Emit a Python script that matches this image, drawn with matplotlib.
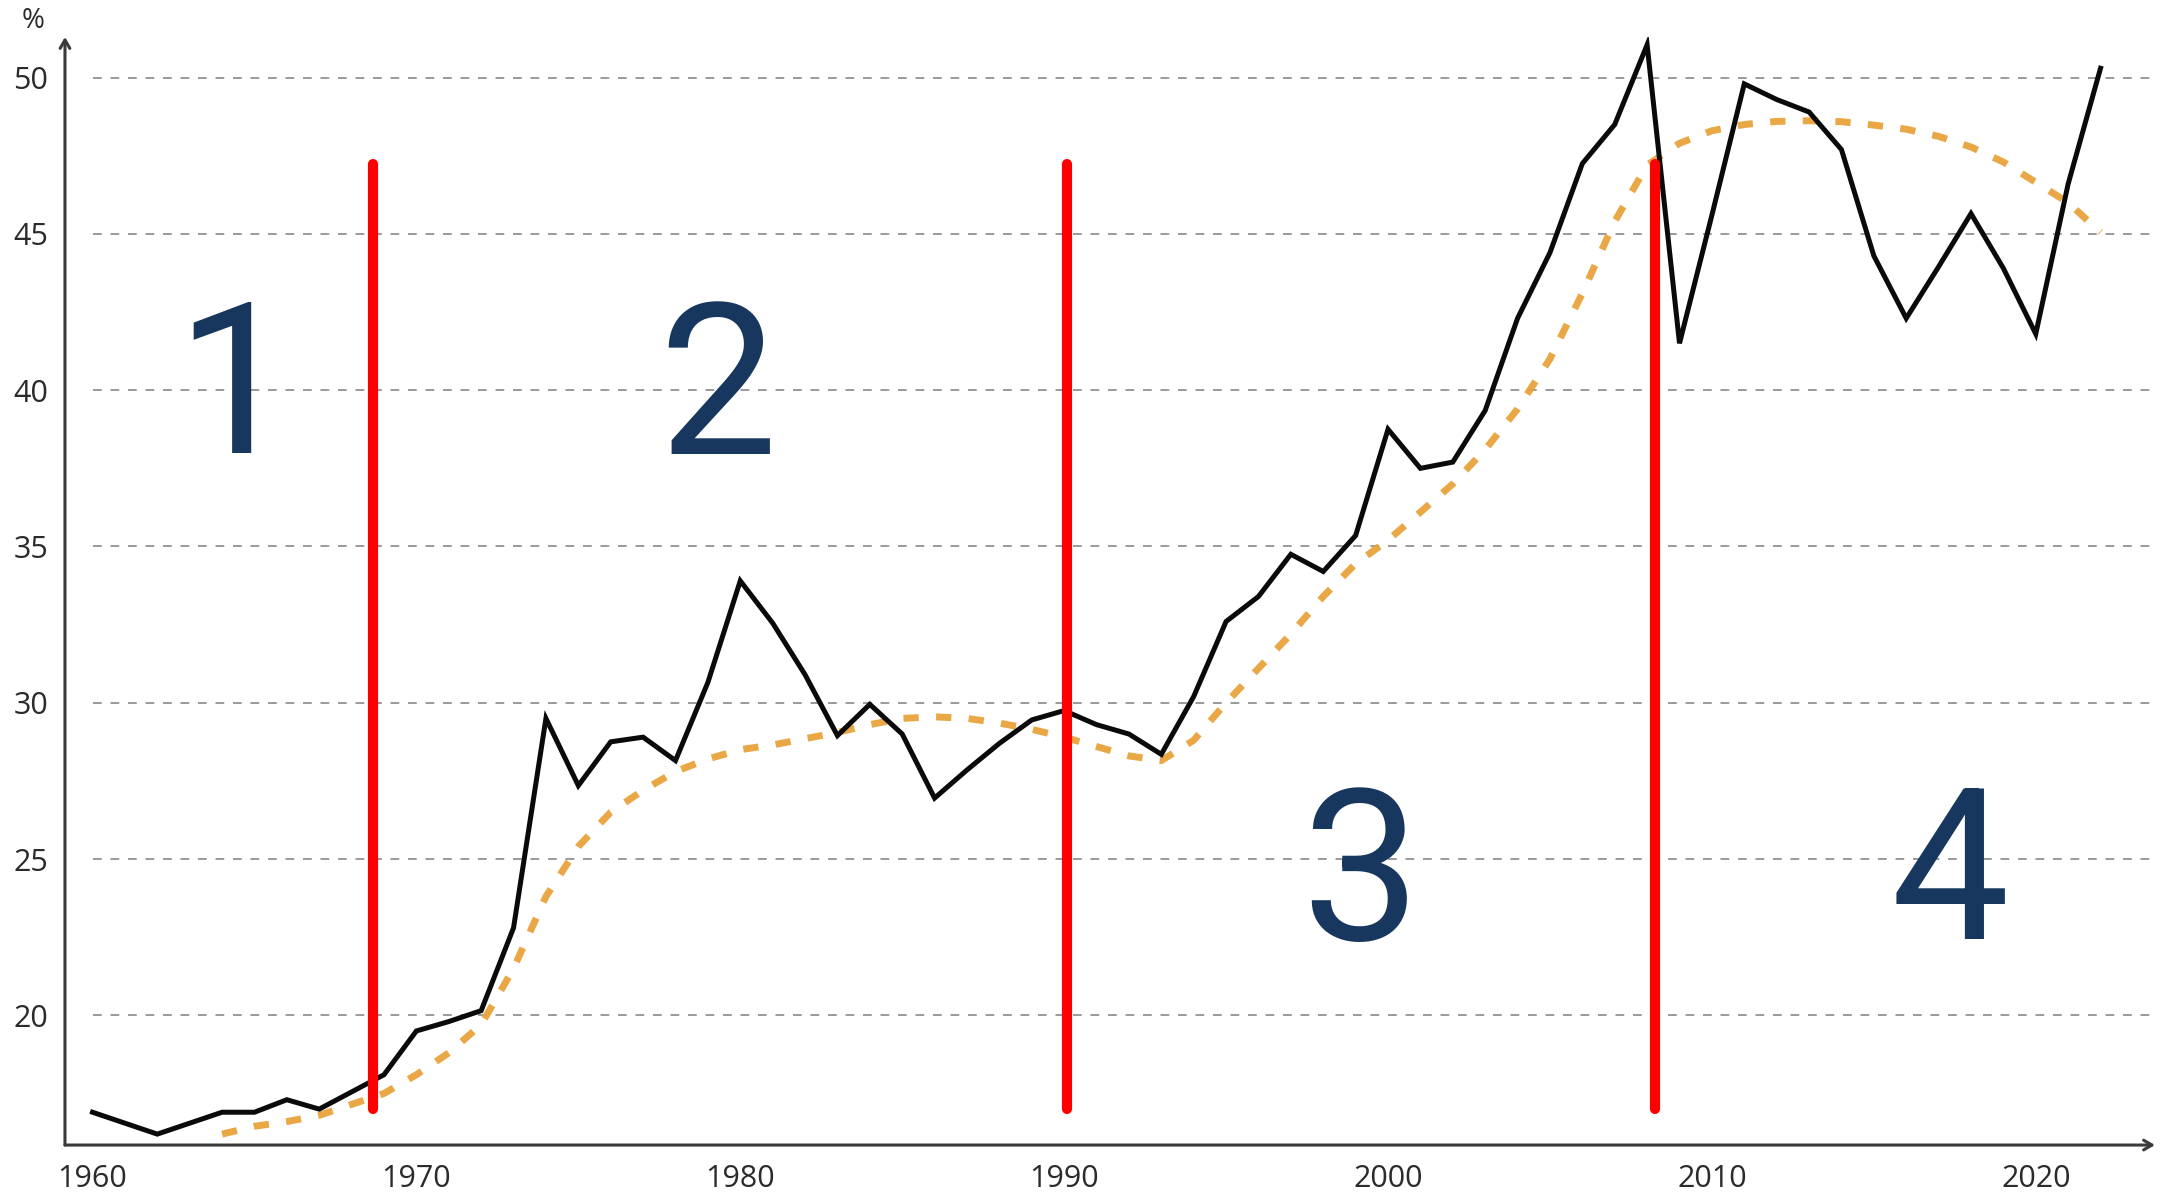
import matplotlib
matplotlib.use("Agg")
import matplotlib.pyplot as plt
import numpy as np

# ---------------- data ----------------
years = list(range(1960, 2023))
share = [16.9, 16.55, 16.2, 16.55, 16.9, 16.9, 17.3, 17.0, 17.55, 18.1,
         19.5, 19.8, 20.15, 22.8, 29.5, 27.35, 28.75, 28.9, 28.15, 30.65,
         33.9, 32.55, 30.9, 28.95, 29.95, 29.0, 26.95, 27.85, 28.7, 29.45,
         29.75, 29.3, 29.0, 28.35, 30.2, 32.6, 33.4, 34.75, 34.2, 35.35,
         38.75, 37.5, 37.7, 39.35, 42.3, 44.4, 47.25, 48.5, 51.05, 41.5,
         45.6, 49.8, 49.3, 48.9, 47.7, 44.3, 42.3, 43.95, 45.65, 43.9,
         41.8, 46.6, 50.3]

trend_years = list(range(1964, 2023))
trend = [16.2, 16.45, 16.6, 16.8, 17.15, 17.5,
         18.1, 18.8, 19.7, 21.5, 23.8, 25.4, 26.5, 27.2, 27.8, 28.2,
         28.5, 28.65, 28.85, 29.05, 29.3, 29.5, 29.55, 29.5, 29.35, 29.15,
         28.9, 28.6, 28.3, 28.15, 28.8, 30.0, 31.1, 32.2, 33.4, 34.45,
         35.2, 36.1, 37.0, 38.1, 39.4, 41.0, 43.1, 45.4, 47.2, 47.9,
         48.3, 48.5, 48.6, 48.62, 48.59, 48.48, 48.35, 48.12, 47.78, 47.3,
         46.65, 46.0, 45.05]

phase_breaks = [1968.66, 1990.1, 2008.23]
phase_labels = ["1", "2", "3", "4"]
phase_label_x = [1964.4, 1979.3, 1999.15, 2017.35]
phase_label_y = [38.0, 37.95, 22.4, 22.45]

xtick_years = [1960, 1970, 1980, 1990, 2000, 2010, 2020]
ytick_vals = [20, 25, 30, 35, 40, 45, 50]

# ---------------- figure ----------------
fig = plt.figure(figsize=(21.66, 11.97), dpi=100)
ax = fig.add_axes([0.0300, 0.0434, 0.9649, 0.9257])
ax.set_xlim(1959.15, 2023.68)
ax.set_ylim(15.85, 51.3)

# gridlines
for v in ytick_vals:
    ax.plot([1960, 2023.68], [v, v], color="#9a9a9a", lw=1.4,
            linestyle=(0, (4.5, 4.5)), zorder=1, clip_on=False)

# trend (orange dotted)
ax.plot(trend_years, trend, color="#E9A23B", lw=5.0,
        linestyle=(0, (2.2, 2.5)), dash_capstyle="butt", zorder=2, alpha=0.95)

# main series
ax.plot(years, share, color="#0a0a0a", lw=3.6, zorder=3,
        solid_joinstyle="miter")

# phase separators
for xb in phase_breaks:
    ax.plot([xb, xb], [17.0, 47.25], color="#FF0000", lw=7.3,
            solid_capstyle="round", zorder=4)

# phase numbers
for lab, px, py in zip(phase_labels, phase_label_x, phase_label_y):
    ax.text(px, py, lab, fontsize=152, color="#17375E", ha="center",
            va="baseline", fontfamily=["Roboto", "DejaVu Sans"], zorder=5)

# axes styling
for s in ["top", "right", "left", "bottom"]:
    ax.spines[s].set_visible(False)
arrow_kw = dict(arrowstyle="->,head_length=0.6,head_width=0.35",
                color="#3a3a3a", lw=2.2, shrinkA=0, shrinkB=0)
ax.annotate("", xy=(0, 1), xytext=(0, 0), xycoords="axes fraction",
            arrowprops=arrow_kw, annotation_clip=False)
ax.annotate("", xy=(1, 0), xytext=(0, 0), xycoords="axes fraction",
            arrowprops=arrow_kw, annotation_clip=False)

ax.set_xticks(xtick_years)
ax.set_xticklabels([str(y) for y in xtick_years])
ax.set_yticks(ytick_vals)
ax.set_yticklabels([str(v) for v in ytick_vals])
ax.tick_params(axis="both", length=0, labelsize=22, labelcolor="#2b2b2b")
ax.tick_params(axis="x", pad=14)
ax.tick_params(axis="y", pad=12)
for lbl in ax.get_xticklabels() + ax.get_yticklabels():
    lbl.set_family("Open Sans")

fig.text(33 / 2166, 1 - 21 / 1197, "%", fontsize=20, color="#2b2b2b",
         ha="center", va="center", family="Open Sans")

fig.savefig("out.png", dpi=100, facecolor="white")
